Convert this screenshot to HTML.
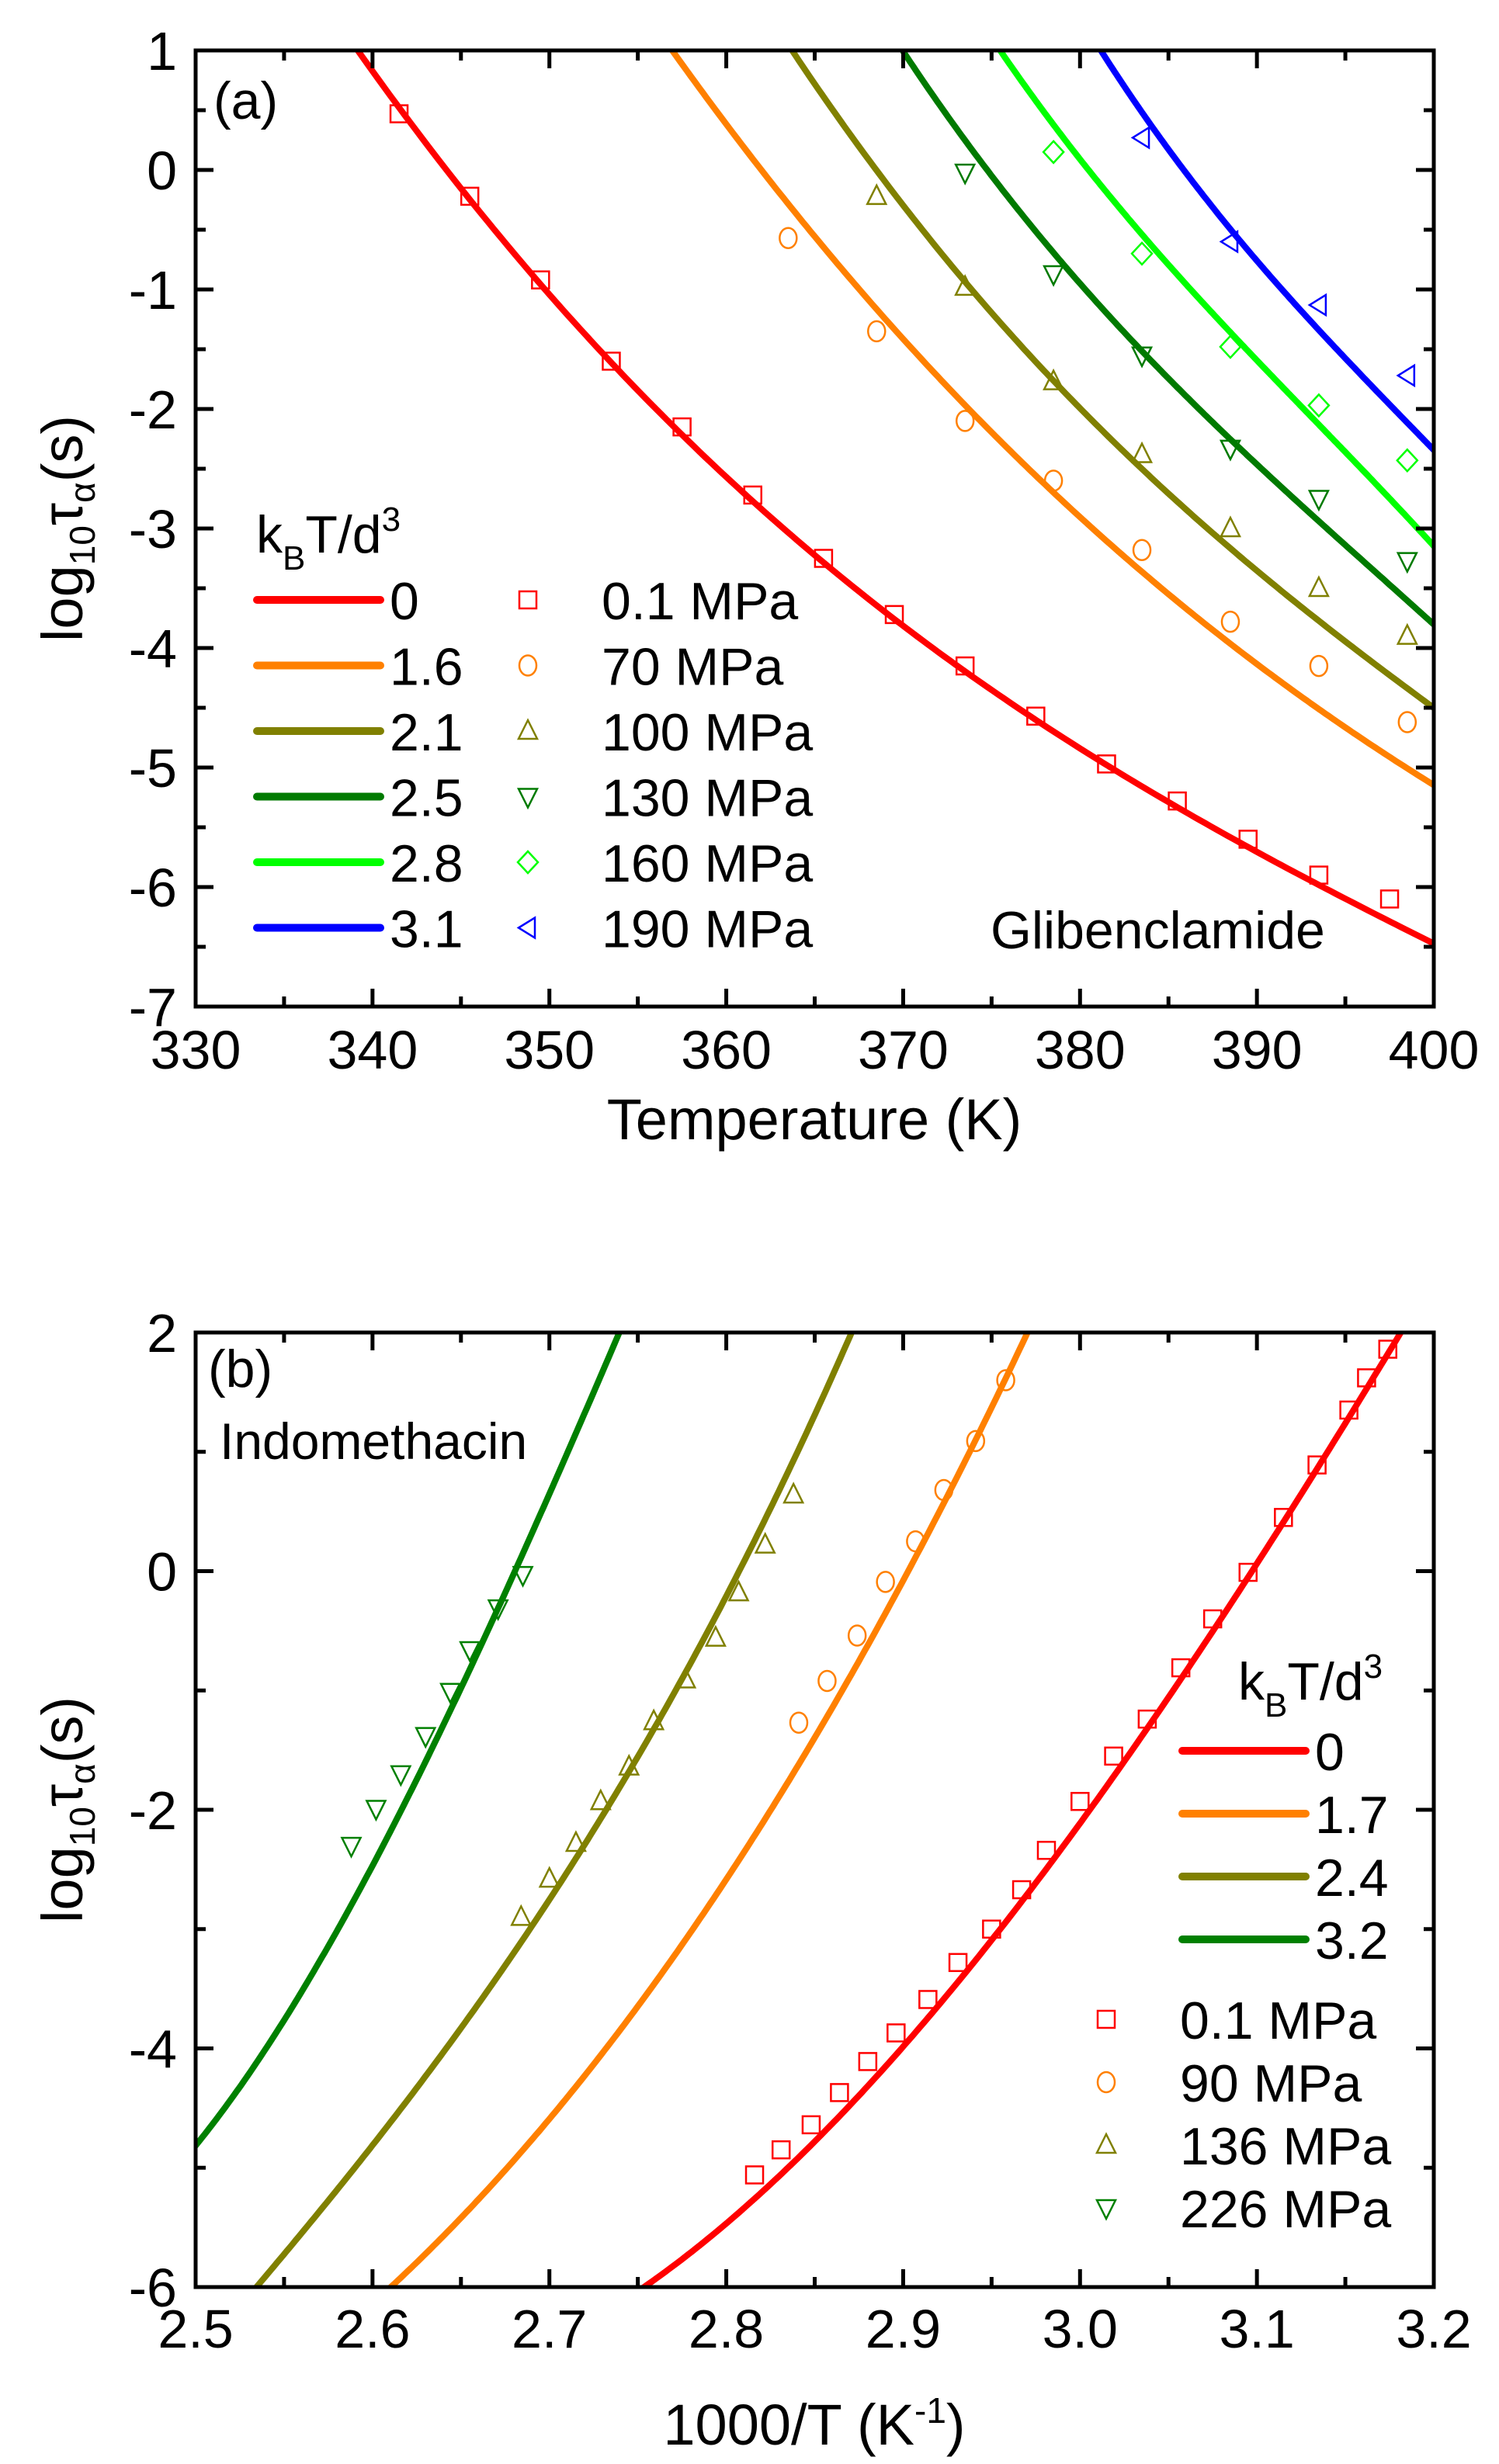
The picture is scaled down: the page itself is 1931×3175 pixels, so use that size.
<!DOCTYPE html>
<html><head><meta charset="utf-8">
<style>
html,body{margin:0;padding:0;background:#fff;}
svg{display:block;font-family:"Liberation Sans",Arial,sans-serif;}
</style></head>
<body>
<svg id="fig" width="1931" height="3175" viewBox="0 0 1931 3175" xmlns="http://www.w3.org/2000/svg">
<g id="pa"></g>
<g id="pb"></g>
</svg>
<script>
// ---------- Panel (a) data ----------
const aT_red = [341.5,345.5,349.5,353.5,357.5,361.5,365.5,369.5,373.5,377.5,381.5,385.5,389.5,393.5,397.5];
const aY_red = [0.47,-0.22,-0.92,-1.6,-2.15,-2.72,-3.25,-3.72,-4.15,-4.57,-4.97,-5.28,-5.6,-5.9,-6.1];
const aT_orange = [363.5,368.5,373.5,378.5,383.5,388.5,393.5,398.5];
const aY_orange = [-0.57,-1.35,-2.1,-2.6,-3.18,-3.78,-4.15,-4.62];
const aT_olive = [368.5,373.5,378.5,383.5,388.5,393.5,398.5];
const aY_olive = [-0.22,-0.98,-1.77,-2.38,-3.0,-3.5,-3.9];
const aT_dgreen = [373.5,378.5,383.5,388.5,393.5,398.5];
const aY_dgreen = [-0.02,-0.87,-1.55,-2.33,-2.75,-3.27];
const aT_lgreen = [378.5,383.5,388.5,393.5,398.5];
const aY_lgreen = [0.15,-0.7,-1.48,-1.97,-2.43];
const aT_blue = [383.5,388.5,393.5,398.5];
const aY_blue = [0.27,-0.6,-1.13,-1.72];
// fit curves
const aCx_red = [338.5,339.2,345,350,355,360,365,370,375,380,385,390,395,400];
const aCy_red = [1.15,1.0,-0.2,-1.0,-1.85,-2.6,-3.2,-3.8,-4.35,-4.85,-5.3,-5.7,-6.1,-6.47];
const aCx_orange = [356.5,357,360,365,370,375,380,385,390,395,400];
const aCy_orange = [1.1,1.0,0.35,-0.55,-1.4,-2.2,-2.9,-3.55,-4.15,-4.65,-5.15];
const aCx_olive = [363.2,363.7,365,370,375,380,385,390,395,400];
const aCy_olive = [1.1,1.0,0.75,-0.3,-1.2,-2.0,-2.7,-3.35,-3.95,-4.5];
const aCx_dgreen = [369.5,370,375,380,385,390,395,400];
const aCy_dgreen = [1.1,1.0,-0.05,-0.95,-1.75,-2.45,-3.15,-3.8];
const aCx_lgreen = [375,375.5,380,385,390,395,400];
const aCy_lgreen = [1.1,1.0,0.1,-0.8,-1.6,-2.35,-3.15];
const aCx_blue = [380.7,381.2,385,390,395,400];
const aCy_blue = [1.1,1.0,0.2,-0.8,-1.55,-2.35];
const aXticks = [330,340,350,360,370,380,390,400];
const aYticks = [1,0,-1,-2,-3,-4,-5,-6,-7];
const aLegendK = ["0","1.6","2.1","2.5","2.8","3.1"];
const aLegendP = ["0.1 MPa","70 MPa","100 MPa","130 MPa","160 MPa","190 MPa"];

// ---------- Panel (b) data ----------
const bX_red = [2.816,2.831,2.848,2.864,2.880,2.896,2.914,2.931,2.950,2.967,2.981,3.000,3.019,3.038,3.057,3.075,3.095,3.115,3.134,3.152,3.162,3.174];
const bY_red = [-5.06,-4.85,-4.64,-4.37,-4.11,-3.87,-3.59,-3.28,-3.0,-2.67,-2.34,-1.93,-1.55,-1.24,-0.81,-0.40,-0.01,0.45,0.89,1.35,1.62,1.86];
const bX_orange = [2.841,2.857,2.874,2.890,2.907,2.923,2.941,2.958];
const bY_orange = [-1.27,-0.92,-0.54,-0.09,0.25,0.68,1.09,1.6];
const bX_olive = [2.684,2.700,2.715,2.729,2.745,2.759,2.777,2.794,2.807,2.822,2.838];
const bY_olive = [-2.9,-2.58,-2.28,-1.93,-1.64,-1.26,-0.91,-0.56,-0.18,0.22,0.64];
const bX_green = [2.588,2.602,2.616,2.630,2.644,2.655,2.671,2.685];
const bY_green = [-2.30,-1.99,-1.70,-1.38,-1.01,-0.66,-0.31,-0.03];
const bCx_red = [2.745,2.754,2.8,2.85,2.9,2.95,3.0,3.05,3.1,3.15,3.181,3.19];
const bCy_red = [-6.1,-6.0,-5.42,-4.8,-4.0,-3.1,-2.1,-1.05,0.05,1.25,2.0,2.2];
const bCx_orange = [2.603,2.611,2.65,2.7,2.75,2.8,2.85,2.9,2.95,2.970,2.975];
const bCy_orange = [-6.1,-6.0,-5.4,-4.6,-3.65,-2.6,-1.4,0.0,1.25,2.0,2.2];
const bCx_olive = [2.527,2.534,2.55,2.6,2.65,2.7,2.75,2.8,2.85,2.870,2.875];
const bCy_olive = [-6.1,-6.0,-5.75,-4.85,-3.85,-2.7,-1.5,-0.25,1.2,2.0,2.2];
const bCx_green = [2.49,2.5,2.55,2.6,2.65,2.7,2.739,2.745];
const bCy_green = [-5.0,-4.8,-3.75,-2.55,-0.85,0.55,2.0,2.2];
const bXticks = [2.5,2.6,2.7,2.8,2.9,3.0,3.1,3.2];
const bYticks = [2,0,-2,-4,-6];
const bLegendK = ["0","1.7","2.4","3.2"];
const bLegendP = ["0.1 MPa","90 MPa","136 MPa","226 MPa"];

const NS = "http://www.w3.org/2000/svg";
function mk(parent, tag, attrs, text){
  const e = document.createElementNS(NS, tag);
  for (const k in attrs) e.setAttribute(k, attrs[k]);
  if (text !== undefined) e.textContent = text;
  parent.appendChild(e);
  return e;
}
// least-squares cubic through the read sample points, for a smooth rendered fit curve
function cubicFit(xs, ys){
  const n = xs.length, m = xs.reduce((a,b)=>a+b,0)/n;
  const sc = (Math.max(...xs)-Math.min(...xs))/2 || 1;
  const u = xs.map(x=>(x-m)/sc);
  const D = 4, A = [];
  for (let i=0;i<D;i++){ A.push(new Array(D+1).fill(0)); }
  for (let k=0;k<n;k++){
    for (let i=0;i<D;i++){
      for (let j=0;j<D;j++) A[i][j] += Math.pow(u[k],i+j);
      A[i][D] += Math.pow(u[k],i)*ys[k];
    }
  }
  for (let i=0;i<D;i++){
    let p=i; for (let r=i+1;r<D;r++) if (Math.abs(A[r][i])>Math.abs(A[p][i])) p=r;
    [A[i],A[p]]=[A[p],A[i]];
    for (let r=0;r<D;r++){ if (r===i) continue; const f=A[r][i]/A[i][i]; for (let c=i;c<=D;c++) A[r][c]-=f*A[i][c]; }
  }
  const co = A.map((row,i)=>row[D]/row[i]);
  return x => { const t=(x-m)/sc; return co[0]+co[1]*t+co[2]*t*t+co[3]*t*t*t; };
}
function marker(g, type, cx, cy, color, name){
  const s = 12;
  let e;
  if (type==="square") e = mk(g,"rect",{x:cx-s+1,y:cy-s+1,width:2*s-2,height:2*s-2});
  else if (type==="circle") e = mk(g,"ellipse",{cx:cx,cy:cy,rx:s-1,ry:s+1});
  else if (type==="up") e = mk(g,"polygon",{points:`${cx},${cy-s-2} ${cx-s},${cy+s-2} ${cx+s},${cy+s-2}`});
  else if (type==="down") e = mk(g,"polygon",{points:`${cx},${cy+s+2} ${cx-s},${cy-s+2} ${cx+s},${cy-s+2}`});
  else if (type==="diamond") e = mk(g,"polygon",{points:`${cx},${cy-s-2} ${cx+s+1},${cy} ${cx},${cy+s+2} ${cx-s-1},${cy}`});
  else if (type==="left") e = mk(g,"polygon",{points:`${cx-s},${cy} ${cx+s-3},${cy-s-1} ${cx+s-3},${cy+s+1}`});
  e.setAttribute("fill","none");
  e.setAttribute("stroke",color);
  e.setAttribute("stroke-width","2.5");
  
  
  return e;
}

function panel(g, cfg){
  const L=252,R=1847,T=cfg.top,B=cfg.bottom;
  const sx = v => L + (v-cfg.xmin)/(cfg.xmax-cfg.xmin)*(R-L);
  const sy = v => T + (cfg.ymax-v)/(cfg.ymax-cfg.ymin)*(B-T);
  const clipId = cfg.id+"-clip";
  const defs = mk(g,"defs",{});
  const cp = mk(defs,"clipPath",{id:clipId});
  mk(cp,"rect",{x:L,y:T,width:R-L,height:B-T});
  const cg = mk(g,"g",{"clip-path":`url(#${clipId})`});
  
  
  cfg.curves.forEach(c=>{
    const f = cubicFit(c.x, c.y);
    const x0 = Math.min(...c.x), x1 = Math.max(...c.x);
    let d = "";
    for (let i=0;i<=200;i++){
      const x = x0 + (x1-x0)*i/200;
      d += (i?" L":"M") + sx(x).toFixed(1) + "," + sy(f(x)).toFixed(1);
    }
    const p = mk(cg,"path",{d:d,fill:"none",stroke:c.color,"stroke-width":"8","stroke-linecap":"round","stroke-linejoin":"round"});
    
    
  });
  const mg = mk(g,"g",{});
  
  
  cfg.series.forEach(s=>{
    s.x.forEach((v,i)=>{ marker(mg,s.type,sx(v),sy(s.y[i]),s.color,'point-'+s.name); });
  });
  const fr = mk(g,"rect",{x:L,y:T,width:R-L,height:B-T,fill:"none",stroke:"#000","stroke-width":"5"});
  
  
  const tg = mk(g,"g",{stroke:"#000","stroke-width":"5"});
  
  
  const xt = cfg.xticks, yt = cfg.yticks;
  for (let i=0;i<xt.length;i++){
    const x = sx(xt[i]);
    if (i>0 && i<xt.length-1){ mk(tg,"line",{x1:x,y1:B,x2:x,y2:B-23}); mk(tg,"line",{x1:x,y1:T,x2:x,y2:T+23}); }
    if (i<xt.length-1){ const xm = sx((xt[i]+xt[i+1])/2); mk(tg,"line",{x1:xm,y1:B,x2:xm,y2:B-13}); mk(tg,"line",{x1:xm,y1:T,x2:xm,y2:T+13}); }
    const t = mk(g,"text",{x:x,y:cfg.xlabY,"font-size":"70","text-anchor":"middle"},cfg.xfmt(xt[i]));
    
    
  }
  for (let i=0;i<yt.length;i++){
    const y = sy(yt[i]);
    if (i>0 && i<yt.length-1){ mk(tg,"line",{x1:L,y1:y,x2:L+23,y2:y}); mk(tg,"line",{x1:R,y1:y,x2:R-23,y2:y}); }
    if (i<yt.length-1){ const ym = sy((yt[i]+yt[i+1])/2); mk(tg,"line",{x1:L,y1:ym,x2:L+13,y2:ym}); mk(tg,"line",{x1:R,y1:ym,x2:R-13,y2:ym}); }
    const t = mk(g,"text",{x:228,y:y+25,"font-size":"70","text-anchor":"end"},String(yt[i]));
    
    
  }
  return {sx,sy};
}

const pa = document.getElementById("pa");
panel(pa,{id:"a",top:65,bottom:1297,xmin:330,xmax:400,ymin:-7,ymax:1,xticks:aXticks,yticks:aYticks,xlabY:1377,xfmt:v=>String(v),
  curves:[
    {name:"0",x:aCx_red,y:aCy_red,color:"#ff0000"},
    {name:"1.6",x:aCx_orange,y:aCy_orange,color:"#ff8000"},
    {name:"2.1",x:aCx_olive,y:aCy_olive,color:"#808000"},
    {name:"2.5",x:aCx_dgreen,y:aCy_dgreen,color:"#007a00"},
    {name:"2.8",x:aCx_lgreen,y:aCy_lgreen,color:"#00ff00"},
    {name:"3.1",x:aCx_blue,y:aCy_blue,color:"#0000ff"}],
  series:[
    {name:"0.1MPa",type:"square",x:aT_red,y:aY_red,color:"#ff0000"},
    {name:"70MPa",type:"circle",x:aT_orange,y:aY_orange,color:"#ff8000"},
    {name:"100MPa",type:"up",x:aT_olive,y:aY_olive,color:"#808000"},
    {name:"130MPa",type:"down",x:aT_dgreen,y:aY_dgreen,color:"#007a00"},
    {name:"160MPa",type:"diamond",x:aT_lgreen,y:aY_lgreen,color:"#00ff00"},
    {name:"190MPa",type:"left",x:aT_blue,y:aY_blue,color:"#0000ff"}]});

const pb = document.getElementById("pb");
panel(pb,{id:"b",top:1717,bottom:2947,xmin:2.5,xmax:3.2,ymin:-6,ymax:2,xticks:bXticks,yticks:bYticks,xlabY:3025,xfmt:v=>v.toFixed(1),
  curves:[
    {name:"0",x:bCx_red,y:bCy_red,color:"#ff0000"},
    {name:"1.7",x:bCx_orange,y:bCy_orange,color:"#ff8000"},
    {name:"2.4",x:bCx_olive,y:bCy_olive,color:"#808000"},
    {name:"3.2",x:bCx_green,y:bCy_green,color:"#008000"}],
  series:[
    {name:"0.1MPa",type:"square",x:bX_red,y:bY_red,color:"#ff0000"},
    {name:"90MPa",type:"circle",x:bX_orange,y:bY_orange,color:"#ff8000"},
    {name:"136MPa",type:"up",x:bX_olive,y:bY_olive,color:"#808000"},
    {name:"226MPa",type:"down",x:bX_green,y:bY_green,color:"#008000"}]});

function legendTitle(g,x,y){
  const t = mk(g,"text",{x:x,y:y,"font-size":"68"});
  
  
  t.innerHTML = 'k<tspan font-size="44" dy="22">B</tspan><tspan dy="-22">T/d</tspan><tspan font-size="44" dy="-28">3</tspan>';
}
const aCols = ["#ff0000","#ff8000","#808000","#007a00","#00ff00","#0000ff"];
const aTypes = ["square","circle","up","down","diamond","left"];
legendTitle(pa,330,712);
aLegendK.forEach((k,i)=>{
  const y = 773 + i*84.5;
  const ln = mk(pa,"line",{x1:331,y1:y,x2:490,y2:y,stroke:aCols[i],"stroke-width":"10","stroke-linecap":"round"});
  
  
  const t = mk(pa,"text",{x:502,y:y+25,"font-size":"68"},k);
  
  
  marker(pa,aTypes[i],680,y,aCols[i],'legend-marker');
  const t2 = mk(pa,"text",{x:775,y:y+25,"font-size":"68"},aLegendP[i]);
  
  
});
const gl = mk(pa,"text",{x:1276,y:1222,"font-size":"68"},"Glibenclamide");


const la = mk(pa,"text",{x:275,y:153,"font-size":"68"},"(a)");



const bCols = ["#ff0000","#ff8000","#808000","#008000"];
const bTypes = ["square","circle","up","down"];
legendTitle(pb,1595,2190);
bLegendK.forEach((k,i)=>{
  const y = 2256 + i*81;
  const ln = mk(pb,"line",{x1:1523,y1:y,x2:1682,y2:y,stroke:bCols[i],"stroke-width":"10","stroke-linecap":"round"});
  
  
  const t = mk(pb,"text",{x:1694,y:y+25,"font-size":"68"},k);
  
  
});
bLegendP.forEach((p,i)=>{
  const y = 2602 + i*81;
  marker(pb,bTypes[i],1425,y,bCols[i],'legend-marker');
  const t = mk(pb,"text",{x:1520,y:y+25,"font-size":"68"},p);
  
  
});
const ind = mk(pb,"text",{x:283,y:1880,"font-size":"66"},"Indomethacin");


const lb = mk(pb,"text",{x:268,y:1787,"font-size":"68"},"(b)");



function ytitle(g,cy){
  const t = mk(g,"text",{x:0,y:0,"font-size":"74","text-anchor":"middle",transform:`translate(106,${cy}) rotate(-90)`});
  
  
  t.innerHTML = 'log<tspan font-size="46" dy="16">10</tspan><tspan dy="-16">τ</tspan><tspan font-size="46" dy="16">α</tspan><tspan dy="-16">(s)</tspan>';
}
ytitle(pa,681);
ytitle(pb,2332);
const xa = mk(pa,"text",{x:1049,y:1468,"font-size":"74","text-anchor":"middle"},"Temperature (K)");


const xb = mk(pb,"text",{x:1049,y:3150,"font-size":"74","text-anchor":"middle"});


xb.innerHTML = '1000/T (K<tspan font-size="46" dy="-28">-1</tspan><tspan dy="28">)</tspan>';
</script>
</body></html>
